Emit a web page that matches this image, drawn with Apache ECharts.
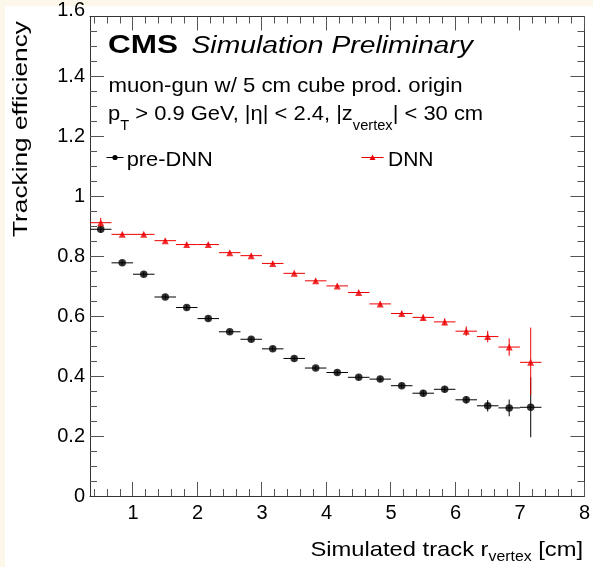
<!DOCTYPE html>
<html><head><meta charset="utf-8">
<script src="https://cdn.jsdelivr.net/npm/echarts@6/dist/echarts.min.js"></script>
<style>
html,body{margin:0;padding:0;background:#fdf7e9;}
#bg{position:absolute;left:5px;top:6px;width:588px;height:561px;background:#fff;}
#c{position:absolute;left:0;top:0;width:593px;height:567px;}
</style>
</head><body><div id="bg"></div><div id="c"></div>
<script>
// ---- data ----
const binCenters = [0.5, 0.833, 1.167, 1.5, 1.833, 2.167, 2.5, 2.833, 3.167, 3.5, 3.833, 4.167, 4.5, 4.833, 5.167, 5.5, 5.833, 6.167, 6.5, 6.833, 7.167];
const binHalfWidth = 1 / 6;
const preDNN      = [0.890, 0.778, 0.740, 0.664, 0.629, 0.592, 0.548, 0.523, 0.491, 0.459, 0.427, 0.412, 0.396, 0.390, 0.368, 0.343, 0.356, 0.321, 0.301, 0.294, 0.296];
const preDNNErrLo = [0.012, 0.008, 0.008, 0.008, 0.008, 0.008, 0.008, 0.008, 0.008, 0.008, 0.008, 0.008, 0.008, 0.009, 0.009, 0.010, 0.010, 0.012, 0.019, 0.028, 0.100];
const preDNNErrHi = [0.012, 0.008, 0.008, 0.008, 0.008, 0.008, 0.008, 0.008, 0.008, 0.008, 0.008, 0.008, 0.008, 0.009, 0.009, 0.010, 0.010, 0.012, 0.019, 0.028, 0.100];
const dnn         = [0.912, 0.873, 0.873, 0.852, 0.839, 0.839, 0.812, 0.802, 0.776, 0.743, 0.718, 0.701, 0.679, 0.641, 0.609, 0.596, 0.581, 0.550, 0.532, 0.497, 0.446];
const dnnErrLo    = [0.013, 0.006, 0.006, 0.006, 0.006, 0.006, 0.006, 0.006, 0.006, 0.006, 0.006, 0.007, 0.007, 0.008, 0.008, 0.010, 0.012, 0.016, 0.019, 0.029, 0.109];
const dnnErrHi    = [0.016, 0.006, 0.006, 0.006, 0.006, 0.006, 0.006, 0.006, 0.006, 0.006, 0.006, 0.007, 0.007, 0.008, 0.008, 0.010, 0.012, 0.016, 0.019, 0.029, 0.116];
const xTickValues = [1, 2, 3, 4, 5, 6, 7, 8];
const xMinorTickValues = [0.4,0.6,0.8,1.2,1.4,1.6,1.8,2.2,2.4,2.6,2.8,3.2,3.4,3.6,3.8,4.2,4.4,4.6,4.8,5.2,5.4,5.6,5.8,6.2,6.4,6.6,6.8,7.2,7.4,7.6,7.8];
const yTickValues = [0.2, 0.4, 0.6, 0.8, 1.0, 1.2, 1.4];
const yMinorTickValues = [0.05,0.1,0.15,0.25,0.3,0.35,0.45,0.5,0.55,0.65,0.7,0.75,0.85,0.9,0.95,1.05,1.1,1.15,1.25,1.3,1.35,1.45,1.5,1.55];
const yTickLabels = ['0', '0.2', '0.4', '0.6', '0.8', '1', '1.2', '1.4', '1.6'];
const seriesNames = ['pre-DNN', 'DNN'];

const FF = '"Liberation Sans", Arial, sans-serif';
const frameColor = '#333';
const tickColor = '#555';
const X_MIN = 1 / 3, X_MAX = 8, Y_MIN = 0, Y_MAX = 1.6;
const MAJOR_LEN = 14, MINOR_LEN = 7;

const chart = echarts.init(document.getElementById('c'), null, { renderer: 'canvas' });

function errSeries(vals, lo, hi, color, z) {
  return {
    type: 'custom', xAxisIndex: 0, yAxisIndex: 0, z: z, silent: true,
    encode: { x: 0, y: 1 },
    data: binCenters.map((x, i) => [x, vals[i], lo[i], hi[i]]),
    renderItem: (params, api) => {
      const x = api.value(0), y = api.value(1);
      const pL = api.coord([x - binHalfWidth, y]);
      const pR = api.coord([x + binHalfWidth, y]);
      const pT = api.coord([x, y + api.value(3)]);
      const pB = api.coord([x, y - api.value(2)]);
      return {
        type: 'group', children: [
          { type: 'line', shape: { x1: pL[0], y1: pL[1], x2: pR[0], y2: pR[1] }, style: { stroke: color, lineWidth: 1 } },
          { type: 'line', shape: { x1: pT[0], y1: pT[1], x2: pB[0], y2: pB[1] }, style: { stroke: color, lineWidth: 1 } }
        ]
      };
    }
  };
}

const crisp = v => Math.round(v - 0.5) + 0.5;

function txt(x, y, text, font, scaleX, align, extra) {
  return Object.assign({
    type: 'text', x: x, y: y, scaleX: scaleX || 1, z: 100,
    style: { text: text, font: font, fill: '#000', align: align || 'left', verticalAlign: 'middle', textAlign: align || 'left', textVerticalAlign: 'middle' }
  }, extra || {});
}

const textGraphics = [
  txt(108, 46.3, 'CMS', 'bold 25px ' + FF, 1.26),
  txt(191.5, 47, 'Simulation Preliminary', 'italic 23px ' + FF, 1.23),
  txt(108.5, 86, 'muon-gun w/ 5 cm cube prod. origin', '21px ' + FF, 1.057),
  {
    type: 'text', x: 108, y: 107.6, scaleX: 1.045, z: 100,
    style: {
      text: '{m|p}{s|T}{m| > 0.9 GeV, |η| < 2.4, |z}{s|vertex}{m|| < 30 cm}',
      align: 'left', verticalAlign: 'top', textAlign: 'left', textVerticalAlign: 'top',
      rich: {
        m: { fontFamily: FF, fontSize: 21, lineHeight: 21, color: '#000', padding: [0, 0, 8.5, 0] },
        s: { fontFamily: FF, fontSize: 14, lineHeight: 14, color: '#000', padding: [15.5, 0, 0, 0] }
      }
    }
  },
  // legend
  { type: 'line', z: 100, shape: { x1: 106.5, y1: 157.5, x2: 123.5, y2: 157.5 }, style: { stroke: '#000', lineWidth: 1 } },
  { type: 'circle', z: 101, shape: { cx: 115, cy: 157.5, r: 2.6 }, style: { fill: '#000' } },
  txt(126.7, 160, seriesNames[0], '21px ' + FF, 1.04),
  { type: 'line', z: 100, shape: { x1: 361.5, y1: 157.5, x2: 383.5, y2: 157.5 }, style: { stroke: '#ee0000', lineWidth: 1 } },
  { type: 'polygon', z: 101, shape: { points: [[372.5, 154.5], [375.5, 160], [369.5, 160]] }, style: { fill: '#ee0000' } },
  txt(388, 160, seriesNames[1], '21px ' + FF, 1.0),
  // y title
  txt(21.5, 237, 'Tracking efficiency', '21px ' + FF, 1.25, 'left', { rotation: Math.PI / 2 }),
  // x title
  {
    type: 'text', x: 583, y: 541.5, scaleX: 1.13, z: 100,
    style: {
      text: '{m|Simulated track r}{s|vertex}{m| [cm]}',
      align: 'right', verticalAlign: 'top', textAlign: 'right', textVerticalAlign: 'top',
      rich: {
        m: { fontFamily: FF, fontSize: 21, lineHeight: 21, color: '#000', padding: [0, 0, 3.5, 0] },
        s: { fontFamily: FF, fontSize: 14, lineHeight: 14, color: '#000', padding: [10.5, 0, 0, 0] }
      }
    }
  }
];

chart.setOption({
  animation: false,
  backgroundColor: 'transparent',
  grid: { left: 90, right: 8, top: 16, bottom: 71, containLabel: false },
  xAxis: [
    {
      type: 'value', min: X_MIN, max: X_MAX, position: 'bottom',
      axisLine: { show: true, onZero: false, lineStyle: { color: frameColor, width: 1 } },
      axisTick: { show: false },
      axisLabel: { show: true, customValues: xTickValues, fontFamily: FF, fontSize: 20, color: '#000', margin: 7 },
      splitLine: { show: false }
    },
    {
      type: 'value', min: X_MIN, max: X_MAX, position: 'top',
      axisLine: { show: true, onZero: false, lineStyle: { color: frameColor, width: 1 } },
      axisTick: { show: false }, axisLabel: { show: false }, splitLine: { show: false }
    }
  ],
  yAxis: [
    {
      type: 'value', min: Y_MIN, max: Y_MAX, interval: 0.2, position: 'left',
      axisLine: { show: true, onZero: false, lineStyle: { color: frameColor, width: 1 } },
      axisTick: { show: false },
      axisLabel: {
        show: true, fontFamily: FF, fontSize: 20, color: '#000', margin: 5,
        formatter: v => {
          const i = Math.round(v / 0.2);
          return i === 8 ? '{top|' + yTickLabels[i] + '}' : yTickLabels[i];
        },
        rich: { top: { fontFamily: FF, fontSize: 20, color: '#000', padding: [0, 0, 13, 0] } }
      },
      splitLine: { show: false }
    },
    {
      type: 'value', min: Y_MIN, max: Y_MAX, interval: 0.2, position: 'right',
      axisLine: { show: true, onZero: false, lineStyle: { color: frameColor, width: 1 } },
      axisTick: { show: false }, axisLabel: { show: false }, splitLine: { show: false }
    }
  ],
  series: [
    errSeries(preDNN, preDNNErrLo, preDNNErrHi, '#000', 2),
    { type: 'scatter', name: seriesNames[0], xAxisIndex: 0, yAxisIndex: 0, z: 3,
      symbol: 'circle', symbolSize: 7.5, itemStyle: { color: '#000' },
      data: binCenters.map((x, i) => [x, preDNN[i]]) },
    errSeries(dnn, dnnErrLo, dnnErrHi, '#ee0000', 4),
    { type: 'scatter', name: seriesNames[1], xAxisIndex: 0, yAxisIndex: 0, z: 5,
      symbol: 'triangle', symbolSize: 7, itemStyle: { color: '#ee0000' },
      data: binCenters.map((x, i) => [x, dnn[i]]) }
  ]
});

// frame ticks on all four sides, positioned through the axis scales
const xPix = v => chart.convertToPixel({ xAxisIndex: 0 }, v);
const yPix = v => chart.convertToPixel({ yAxisIndex: 0 }, v);
const frameL = xPix(X_MIN), frameR = xPix(X_MAX), frameB = yPix(Y_MIN), frameT = yPix(Y_MAX);
const tickGraphics = [];
const tickStyle = { stroke: tickColor, lineWidth: 1 };
function addXTicks(values, len) {
  values.forEach(v => {
    const px = crisp(xPix(v));
    tickGraphics.push({ type: 'line', z: 50, silent: true, shape: { x1: px, y1: frameB, x2: px, y2: frameB - len }, style: tickStyle });
    tickGraphics.push({ type: 'line', z: 50, silent: true, shape: { x1: px, y1: frameT, x2: px, y2: frameT + len }, style: tickStyle });
  });
}
function addYTicks(values, len) {
  values.forEach(v => {
    const py = crisp(yPix(v));
    tickGraphics.push({ type: 'line', z: 50, silent: true, shape: { x1: frameL, y1: py, x2: frameL + len, y2: py }, style: tickStyle });
    tickGraphics.push({ type: 'line', z: 50, silent: true, shape: { x1: frameR, y1: py, x2: frameR - len, y2: py }, style: tickStyle });
  });
}
addXTicks(xTickValues, MAJOR_LEN);
addXTicks(xMinorTickValues, MINOR_LEN);
addYTicks(yTickValues, MAJOR_LEN);
addYTicks(yMinorTickValues, MINOR_LEN);

chart.setOption({ graphic: textGraphics.concat(tickGraphics) });
</script>
</body></html>
